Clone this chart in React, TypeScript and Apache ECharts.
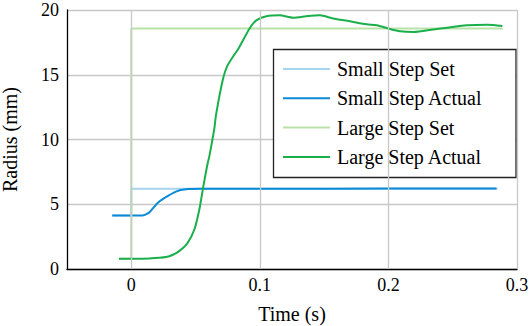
import React, { useEffect, useRef } from "react";
import * as echarts from "echarts";

const seriesNames = ["Small Step Set", "Small Step Actual", "Large Step Set", "Large Step Actual"];
const seriesColors = ["#a7d4ef", "#0a8ad6", "#b9e2a8", "#1aaf4b"];

const xTickValues = [0, 0.1, 0.2, 0.3];

const smallSetT = [-0.015, 0, 0, 0.285];
const smallSetV = [4.13, 4.13, 6.19, 6.19];

const smallActualT = [-0.0148, 0.0086, 0.011, 0.0139, 0.0203, 0.0256, 0.0347, 0.0425, 0.0555, 0.1, 0.2, 0.284];
const smallActualV = [4.13, 4.13, 4.2, 4.36, 5.08, 5.47, 5.98, 6.16, 6.19, 6.2, 6.21, 6.22];

const largeSetT = [-0.0096, 0, 0, 0.289];
const largeSetV = [0.79, 0.79, 18.57, 18.57];

const largeActualT = [
  -0.0096, 0.005, 0.0139, 0.022, 0.027, 0.032, 0.037, 0.0437, 0.049, 0.0529, 0.056, 0.0594, 0.0607,
  0.0646, 0.0659, 0.0711, 0.075, 0.0841, 0.092, 0.0972, 0.105, 0.1154, 0.1258, 0.1375, 0.1466, 0.157,
  0.17, 0.183, 0.191, 0.2, 0.209, 0.2196, 0.235, 0.2404, 0.2612, 0.2769, 0.2886,
];
const largeActualV = [
  0.79, 0.79, 0.81, 0.86, 0.92, 1.08, 1.36, 2.0, 3.03, 4.57, 6.36, 8.17, 8.7,
  10.86, 11.9, 14.58, 15.74, 17.15, 18.57, 19.2, 19.51, 19.59, 19.41, 19.54, 19.59, 19.34,
  19.13, 18.9, 18.82, 18.57, 18.36, 18.3, 18.5, 18.57, 18.82, 18.87, 18.77,
];

const zip = (t: number[], v: number[]) => t.map((x, i) => [x, v[i]]);

const FONT = "'Liberation Serif', 'DejaVu Serif', 'Times New Roman', serif";
const GRID_COLOR = "#c8c8c8";

export default function App() {
  const ref = useRef<HTMLDivElement>(null);
  useEffect(() => {
    document.body.style.margin = "0";
    if (!ref.current) return;
    const chart = echarts.init(ref.current, undefined, { renderer: "svg" });
    const data = [
      zip(smallSetT, smallSetV),
      zip(smallActualT, smallActualV),
      zip(largeSetT, largeSetV),
      zip(largeActualT, largeActualV),
    ];
    const series: any[] = [
      {
        name: "grid",
        type: "line",
        data: [],
        silent: true,
        z: 1,
        markLine: {
          silent: true,
          symbol: "none",
          label: { show: false },
          lineStyle: { color: GRID_COLOR, width: 1.3, type: "solid" },
          emphasis: { disabled: true },
          data: xTickValues.map((v) => ({ xAxis: v })),
        },
      },
      ...seriesNames.map((name, i) => ({
        name,
        type: "line",
        data: data[i],
        showSymbol: false,
        symbol: "none",
        smooth: i % 2 === 1 ? 0.25 : false,
        color: seriesColors[i],
        lineStyle: { color: seriesColors[i], width: 2 },
        z: 2,
      })),
    ];
    chart.setOption({
      animation: false,
      textStyle: { fontFamily: FONT },
      grid: { left: 67, top: 10, right: 15, bottom: 57, containLabel: false, outerBoundsMode: "none" },
      xAxis: {
        type: "value",
        min: -0.05,
        max: 0.3,
        name: "Time (s)",
        nameLocation: "middle",
        nameGap: 35,
        nameTextStyle: { fontFamily: FONT, fontSize: 20, color: "#000" },
        axisLine: { show: true, onZero: false, lineStyle: { color: "#000", width: 1.3 } },
        axisTick: { show: false },
        axisLabel: {
          customValues: xTickValues,
          margin: 7,
          fontFamily: FONT,
          fontSize: 18,
          color: "#000",
          formatter: (v: number) => String(+Number(v).toFixed(2)),
        },
        splitLine: { show: false },
      },
      yAxis: {
        type: "value",
        min: 0,
        max: 20,
        interval: 5,
        name: "Radius (mm)",
        nameLocation: "middle",
        nameGap: 47,
        nameTextStyle: { fontFamily: FONT, fontSize: 20, color: "#000" },
        axisLine: { show: true, onZero: false, lineStyle: { color: "#000", width: 1.3 } },
        axisTick: { show: false },
        axisLabel: { margin: 8, fontFamily: FONT, fontSize: 18, color: "#000" },
        splitLine: { show: true, lineStyle: { color: GRID_COLOR, width: 1.3 } },
      },
      legend: {
        data: seriesNames,
        orient: "vertical",
        left: 283,
        top: 58,
        padding: 0,
        itemGap: 7.3,
        itemWidth: 47,
        itemHeight: 2,
        icon: "rect",
        selectedMode: false,
        textStyle: { fontFamily: FONT, fontSize: 20, color: "#000", lineHeight: 22, padding: [0, 0, 0, 2] },
        z: 10,
      },
      graphic: [
        {
          type: "rect",
          z: 5,
          shape: { x: 273.5, y: 49.5, width: 242.5, height: 128 },
          style: { fill: "#fff", stroke: "#222", lineWidth: 1.3 },
        },
      ],
      series,
    });
    return () => chart.dispose();
  }, []);
  return <div ref={ref} style={{ width: 532, height: 326 }} />;
}
